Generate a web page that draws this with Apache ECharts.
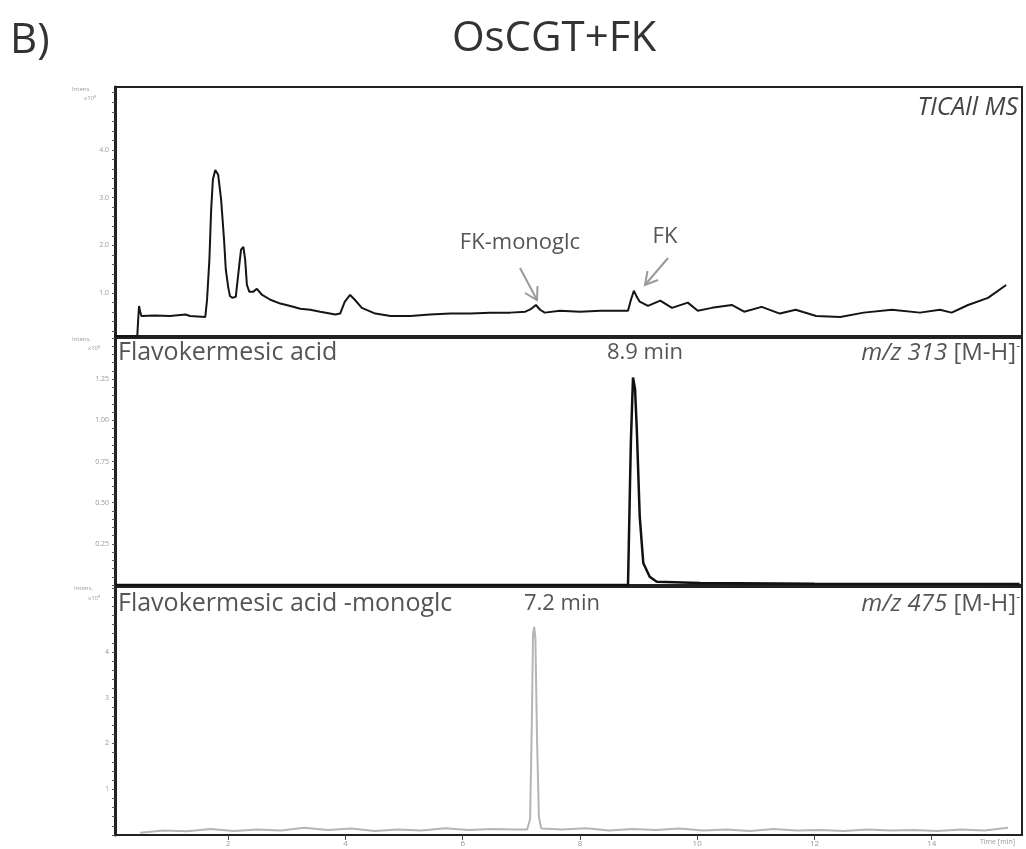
<!DOCTYPE html>
<html>
<head>
<meta charset="utf-8">
<script src="https://cdn.jsdelivr.net/npm/echarts@6/dist/echarts.min.js"></script>
<style>
  html, body { margin: 0; padding: 0; background: #fff; }
  #main { width: 1026px; height: 849px; }
</style>
</head>
<body>
<div id="main"></div>
<script>
// retention time in min, intensity in axis units
var ticData = [
  [0.04,0.1],[0.45,0.1],[0.465,0.44],[0.48,0.73],[0.50,0.61],[0.52,0.52],[0.75,0.53],[1.01,0.52],
  [1.27,0.55],[1.35,0.52],[1.61,0.50],[1.64,0.86],[1.68,1.70],[1.71,2.75],[1.74,3.38],[1.78,3.58],
  [1.81,3.56],[1.83,3.48],[1.88,2.96],[1.93,2.12],[1.96,1.49],[2.00,1.13],[2.03,0.94],[2.07,0.90],
  [2.13,0.92],[2.19,1.59],[2.22,1.91],[2.26,1.97],[2.29,1.70],[2.32,1.17],[2.36,1.03],[2.43,1.03],
  [2.49,1.09],[2.58,0.96],[2.72,0.86],[2.89,0.78],[3.06,0.73],[3.23,0.67],[3.40,0.65],[3.57,0.61],
  [3.83,0.55],[3.91,0.57],[3.99,0.82],[4.08,0.96],[4.16,0.86],[4.28,0.69],[4.51,0.57],[4.77,0.52],
  [5.11,0.52],[5.44,0.55],[5.79,0.57],[6.13,0.57],[6.47,0.59],[6.81,0.59],[7.07,0.61],[7.17,0.67],
  [7.25,0.75],[7.32,0.65],[7.40,0.59],[7.66,0.63],[8.00,0.61],[8.35,0.63],[8.82,0.63],[8.87,0.86],
  [8.92,1.05],[8.97,0.92],[9.02,0.82],[9.16,0.73],[9.37,0.84],[9.57,0.69],[9.84,0.80],[10.01,0.63],
  [10.25,0.69],[10.59,0.75],[10.80,0.61],[11.10,0.71],[11.41,0.57],[11.68,0.65],[12.03,0.52],
  [12.44,0.50],[12.84,0.59],[13.32,0.65],[13.80,0.59],[14.14,0.65],[14.34,0.59],[14.62,0.75],
  [14.96,0.90],[15.27,1.17]
];
var fkData = [
  [0.07,0.0],[8.82,0.0],[8.855,0.63],[8.87,0.88],[8.905,1.26],[8.94,1.19],[8.97,0.945],
  [9.02,0.415],[9.08,0.134],[9.19,0.05],[9.31,0.02],[10.05,0.012],[12.0,0.008],[15.5,0.006]
];
var monoData = [
  [0.50,0.05],[0.9,0.10],[1.3,0.08],[1.7,0.13],[2.1,0.09],[2.5,0.12],[2.9,0.10],[3.3,0.16],
  [3.7,0.11],[4.1,0.14],[4.5,0.09],[4.9,0.12],[5.3,0.10],[5.7,0.15],[6.1,0.11],[6.5,0.13],
  [6.9,0.12],[7.10,0.12],[7.15,0.35],[7.18,2.5],[7.20,4.4],[7.22,4.55],[7.24,4.3],[7.27,2.0],
  [7.30,0.4],[7.34,0.14],[7.7,0.12],[8.1,0.15],[8.5,0.10],[8.9,0.13],[9.3,0.11],[9.7,0.14],
  [10.1,0.10],[10.5,0.12],[10.9,0.09],[11.3,0.13],[11.7,0.10],[12.1,0.11],[12.5,0.09],
  [12.9,0.12],[13.3,0.10],[13.7,0.11],[14.1,0.09],[14.5,0.12],[14.9,0.10],[15.3,0.16]
];
var timeTicks = [2, 4, 6, 8, 10, 12, 14];
var ticTicks = [1, 2, 3, 4];
var fkTicks = [0.25, 0.5, 0.75, 1.0, 1.25];
var monoTicks = [1, 2, 3, 4];

var font = '"Open Sans", "Noto Sans", sans-serif';
var left = 115, right = 4;
var xMin = 0.07, xMax = 15.54;

function xAx(idx, labels) {
  return {
    type: 'value', gridIndex: idx, min: xMin, max: xMax,
    axisLine: { show: true, lineStyle: { color: '#222', width: 2 } },
    axisTick: { show: labels, customValues: timeTicks, length: 5, lineStyle: { color: '#444' } },
    axisLabel: { show: labels, customValues: timeTicks, fontSize: 8, color: '#999', margin: 5 },
    splitLine: { show: false }
  };
}
function yAx(idx, min, max, ticks, minor, digits) {
  return {
    type: 'value', gridIndex: idx, min: min, max: max,
    axisLine: { show: true, lineStyle: { color: '#222', width: 3 } },
    axisTick: { show: true, customValues: minor, length: 3, lineStyle: { color: '#555' } },
    axisLabel: { show: true, customValues: ticks, fontSize: 7, color: '#999', margin: 6,
      formatter: function (v) { return v.toFixed(digits); } },
    splitLine: { show: false }
  };
}
function range(a, b, s) { var r = []; for (var v = a; v <= b + 1e-9; v += s) r.push(+v.toFixed(3)); return r; }

var supRich = function (size) {
  return { i: { font: 'italic ' + size + 'px ' + font, fill: '#555' },
           s: { font: '12px ' + font, fill: '#555', verticalAlign: 'top' } };
};

var chart = echarts.init(document.getElementById('main'));
chart.setOption({
  backgroundColor: '#fff',
  animation: false,
  textStyle: { fontFamily: font },
  grid: [
    { left: left, right: right, top: 87, height: 249, show: true, borderColor: '#222', borderWidth: 2 },
    { left: left, right: right, top: 338, height: 247, show: true, borderColor: '#222', borderWidth: 2 },
    { left: left, right: right, top: 587, height: 248, show: true, borderColor: '#222', borderWidth: 2 }
  ],
  xAxis: [xAx(0, false), xAx(1, false), xAx(2, true)],
  yAxis: [
    yAx(0, 0.1, 5.32, ticTicks, range(0.2, 5.2, 0.2), 1),
    yAx(1, 0, 1.5, fkTicks, range(0, 1.5, 0.05), 2),
    yAx(2, 0, 5.42, monoTicks, range(0, 5.4, 0.2), 0)
  ],
  series: [
    { type: 'line', xAxisIndex: 0, yAxisIndex: 0, data: ticData, showSymbol: false,
      lineStyle: { color: '#151515', width: 2 } },
    { type: 'line', xAxisIndex: 1, yAxisIndex: 1, data: fkData, showSymbol: false,
      lineStyle: { color: '#111', width: 2.5 } },
    { type: 'line', xAxisIndex: 2, yAxisIndex: 2, data: monoData, showSymbol: false,
      lineStyle: { color: '#b5b5b5', width: 2 } }
  ],
  graphic: [
    { type: 'text', x: 10, y: 20, style: { text: 'B)', font: '42px ' + font, fill: '#333' } },
    { type: 'text', x: 554, y: 18, style: { text: 'OsCGT+FK', font: '42px ' + font, fill: '#333', textAlign: 'center' } },
    // header of intensity axes
    { type: 'text', left: 72, top: 86, style: { text: 'Intens.', font: '6px ' + font, fill: '#999' } },
    { type: 'text', left: 84, top: 95, style: { text: 'x10\u2078', font: '6px ' + font, fill: '#999' } },
    { type: 'text', left: 72, top: 336, style: { text: 'Intens.', font: '6px ' + font, fill: '#999' } },
    { type: 'text', left: 88, top: 345, style: { text: 'x10\u2075', font: '6px ' + font, fill: '#999' } },
    { type: 'text', left: 74, top: 585, style: { text: 'Intens.', font: '6px ' + font, fill: '#999' } },
    { type: 'text', left: 88, top: 595, style: { text: 'x10\u2074', font: '6px ' + font, fill: '#999' } },
    { type: 'text', left: 980, top: 838, style: { text: 'Time [min]', font: '7px ' + font, fill: '#999' } },
    // panel annotations
    { type: 'text', right: 8, top: 95, style: { text: 'TICAll MS', font: 'italic 25px ' + font, fill: '#444' } },
    { type: 'text', x: 520, y: 232, style: { text: 'FK-monoglc', font: '22px ' + font, fill: '#555', textAlign: 'center' } },
    { type: 'text', x: 665, y: 226, style: { text: 'FK', font: '22px ' + font, fill: '#555', textAlign: 'center' } },
    { type: 'polyline', shape: { points: [[520, 268], [537, 300]] }, style: { stroke: '#9a9a9a', lineWidth: 2, fill: null } },
    { type: 'polyline', shape: { points: [[525, 293], [537, 300], [537.5, 286]] }, style: { stroke: '#9a9a9a', lineWidth: 2, fill: null } },
    { type: 'polyline', shape: { points: [[668, 258], [645, 285]] }, style: { stroke: '#9a9a9a', lineWidth: 2, fill: null } },
    { type: 'polyline', shape: { points: [[647.5, 271], [645, 285], [658, 280]] }, style: { stroke: '#9a9a9a', lineWidth: 2, fill: null } },
    { type: 'text', left: 118, top: 340, style: { text: 'Flavokermesic acid', font: '25px ' + font, fill: '#555' } },
    { type: 'text', x: 645, y: 342, style: { text: '8.9 min', font: '22px ' + font, fill: '#555', textAlign: 'center' } },
    { type: 'text', right: 6, top: 341, style: {
      text: '{i|m/z 313} [M-H]{s|-}', font: '24px ' + font, fill: '#555', rich: supRich(24) } },
    { type: 'text', left: 118, top: 591, style: { text: 'Flavokermesic acid -monoglc', font: '25px ' + font, fill: '#555' } },
    { type: 'text', x: 562, y: 593, style: { text: '7.2 min', font: '22px ' + font, fill: '#555', textAlign: 'center' } },
    { type: 'text', right: 6, top: 592, style: {
      text: '{i|m/z 475} [M-H]{s|-}', font: '24px ' + font, fill: '#555', rich: supRich(24) } }
  ]
});
</script>
</body>
</html>
